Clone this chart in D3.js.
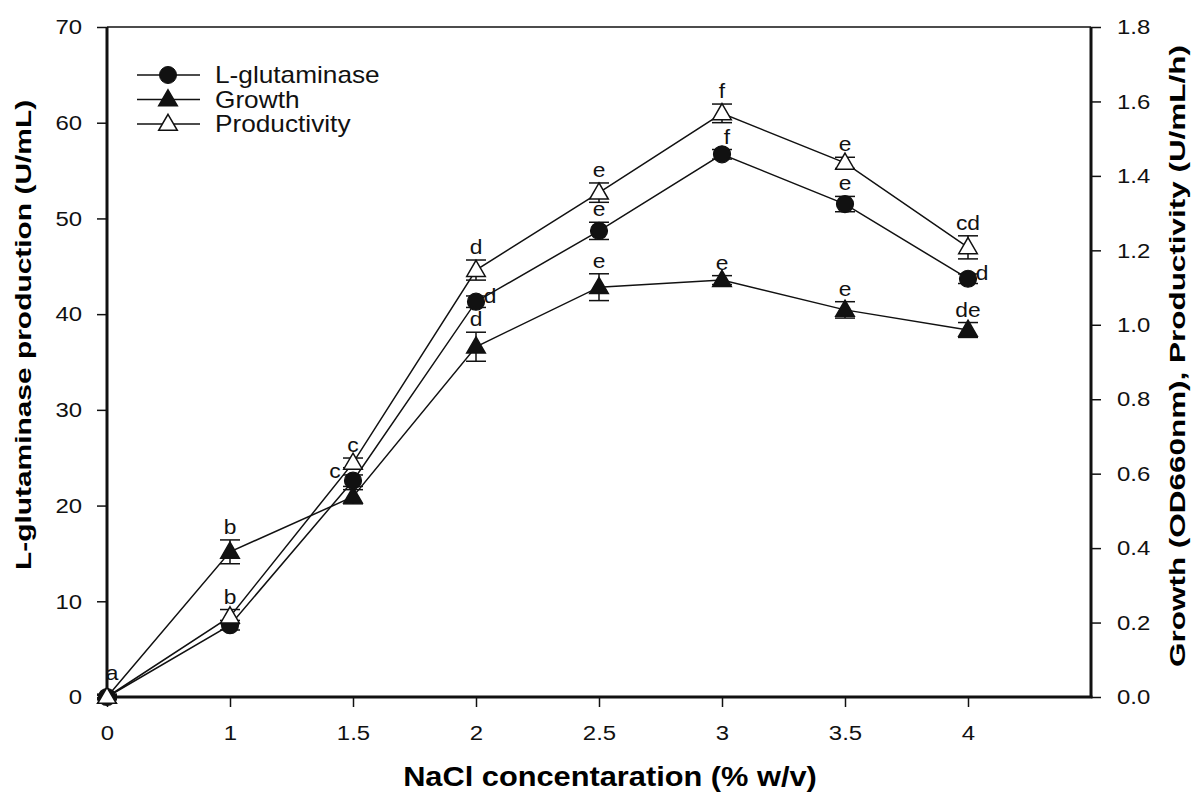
<!DOCTYPE html>
<html>
<head>
<meta charset="utf-8">
<script src="https://cdn.jsdelivr.net/npm/d3@7"></script>
<style>
  body { margin: 0; background: #fff; }
  svg { font-family: "Liberation Sans", Arial, sans-serif; }
</style>
</head>
<body>
<svg id="chart" width="1196" height="794"></svg>
<script>
// NaCl categories (equally spaced on the axis)
const nacl = ["0", "1", "1.5", "2", "2.5", "3", "3.5", "4"];

// L-glutaminase (U/mL), left axis
const glutaminase = [0, 7.5, 22.6, 41.3, 48.7, 56.7, 51.5, 43.7];
const glutaminaseErr = [0.3, 0.5, 0.6, 0.6, 0.9, 0.5, 0.8, 0.5];
const glutaminaseLetters = ["", "", "c", "d", "e", "f", "e", "d"];
const glutaminasePlace = ["", "", "left", "right", "above", "aboveRight", "above", "right"];

// Growth (OD660nm), right axis
const growth = [0, 0.39, 0.538, 0.941, 1.101, 1.12, 1.04, 0.986];
const growthErr = [0.005, 0.032, 0.019, 0.039, 0.036, 0.012, 0.022, 0.02];
const growthLetters = ["", "b", "", "d", "e", "e", "e", "de"];

// Productivity (U/mL/h), right axis
const productivity = [0, 0.216, 0.629, 1.147, 1.355, 1.568, 1.435, 1.208];
const productivityErr = [0.005, 0.019, 0.013, 0.027, 0.026, 0.025, 0.015, 0.031];
const productivityLetters = ["a", "b", "c", "d", "e", "f", "e", "cd"];
const productivityPlace = ["high", "above", "above", "above", "above", "above", "above", "above"];

const leftTicks = [0, 10, 20, 30, 40, 50, 60, 70];
const rightTicks = [0, 0.2, 0.4, 0.6, 0.8, 1.0, 1.2, 1.4, 1.6, 1.8];

const svg = d3.select("#chart");
const plotL = 107, plotR = 1091, plotT = 27, plotB = 697;
const wide = 1.14; // the figure's lettering is a little wider than Arial

const x = d3.scaleLinear().domain([0, nacl.length]).range([plotL, plotR]);
const yL = d3.scaleLinear().domain([0, 70]).range([plotB, plotT]);
const yR = d3.scaleLinear().domain([0, 1.8]).range([plotB, plotT]);

// move x/y of a text into a transform so it can be widened around its anchor
function widen(sel, sx) {
    sel.each(function() {
        const t = d3.select(this);
        const tx = +t.attr("x") || 0, ty = +t.attr("y") || 0;
        t.attr("x", 0).attr("y", 0).attr("transform", `translate(${tx},${ty}) scale(${sx},1)`);
    });
}

// axes
svg.append("g")
    .attr("transform", `translate(0,${plotB})`)
    .call(d3.axisBottom(x).tickValues(d3.range(nacl.length)).tickFormat(i => nacl[i]).tickSize(10).tickPadding(18))
    .call(g => g.select(".domain").remove());

svg.append("g")
    .attr("transform", `translate(${plotL},0)`)
    .call(d3.axisLeft(yL).tickValues(leftTicks).tickSize(10).tickPadding(15))
    .call(g => g.select(".domain").remove());

svg.append("g")
    .attr("transform", `translate(${plotR},0)`)
    .call(d3.axisRight(yR).tickValues(rightTicks).tickFormat(d3.format(".1f")).tickSize(10).tickPadding(16))
    .call(g => g.select(".domain").remove());

svg.selectAll(".tick text").attr("font-size", 21).attr("fill", "#111").call(widen, wide);
svg.selectAll(".tick line").attr("stroke", "#111").attr("stroke-width", 1.5);

// frame
svg.append("line").attr("x1", plotL).attr("x2", plotR).attr("y1", plotT).attr("y2", plotT)
    .attr("stroke", "#111").attr("stroke-width", 1.5);
svg.append("line").attr("x1", plotL).attr("x2", plotR + 1.5).attr("y1", plotB).attr("y2", plotB)
    .attr("stroke", "#111").attr("stroke-width", 3);
svg.append("line").attr("x1", plotL).attr("x2", plotL).attr("y1", plotT).attr("y2", plotB)
    .attr("stroke", "#111").attr("stroke-width", 3);
svg.append("line").attr("x1", plotR).attr("x2", plotR).attr("y1", plotT).attr("y2", plotB)
    .attr("stroke", "#111").attr("stroke-width", 3);

// axis titles
svg.append("text")
    .attr("transform", "translate(610,786) scale(1.14,1)")
    .attr("text-anchor", "middle").attr("font-size", 27).attr("font-weight", "bold")
    .text("NaCl concentaration (% w/v)");

svg.append("text")
    .attr("transform", "translate(31,335) rotate(-90) scale(1.36,1)")
    .attr("text-anchor", "middle").attr("font-size", 22).attr("font-weight", "bold")
    .text("L-glutaminase production (U/mL)");

svg.append("text")
    .attr("transform", "translate(1185,356) rotate(-90) scale(1.43,1)")
    .attr("text-anchor", "middle").attr("font-size", 22).attr("font-weight", "bold")
    .text("Growth (OD660nm), Productivity (U/mL/h)");

const tri = d3.symbol().type(d3.symbolTriangle).size(150);

function drawSeries(values, errs, y, marker, fill) {
    const g = svg.append("g");
    g.append("path")
        .datum(values)
        .attr("fill", "none").attr("stroke", "#111").attr("stroke-width", 1.5)
        .attr("d", d3.line().x((d, i) => x(i)).y(d => y(d)));

    const pts = g.selectAll(".pt").data(values).enter().append("g");
    pts.append("line")
        .attr("x1", (d, i) => x(i)).attr("x2", (d, i) => x(i))
        .attr("y1", (d, i) => y(d - errs[i])).attr("y2", (d, i) => y(d + errs[i]))
        .attr("stroke", "#111").attr("stroke-width", 1.5);
    [-1, 1].forEach(s => {
        pts.append("line")
            .attr("x1", (d, i) => x(i) - 10).attr("x2", (d, i) => x(i) + 10)
            .attr("y1", (d, i) => y(d + s * errs[i])).attr("y2", (d, i) => y(d + s * errs[i]))
            .attr("stroke", "#111").attr("stroke-width", 1.5);
    });
    if (marker === "circle") {
        pts.append("circle")
            .attr("cx", (d, i) => x(i)).attr("cy", d => y(d)).attr("r", 8.5)
            .attr("fill", fill).attr("stroke", "#111").attr("stroke-width", 1.2);
    } else {
        pts.append("path")
            .attr("d", tri)
            .attr("transform", (d, i) => `translate(${x(i)},${y(d) + 1})`)
            .attr("fill", fill).attr("stroke", "#111").attr("stroke-width", 1.5);
    }
}

function drawLetters(values, errs, y, letters, place) {
    const pos = (d, i) => {
        const p = place ? place[i] : "above";
        if (p === "right") return [x(i) + 14, y(d) + 1];
        if (p === "left") return [x(i) - 18, y(d) - 3];
        if (p === "high") return [x(i) + 5, y(d) - 17];
        if (p === "aboveRight") return [x(i) + 5, y(d + errs[i]) - 6];
        return [x(i), y(d + errs[i]) - 6];
    };
    svg.append("g").selectAll("text").data(values).enter().append("text")
        .attr("font-size", 20).attr("fill", "#111").attr("text-anchor", "middle")
        .attr("transform", (d, i) => `translate(${pos(d, i)}) scale(${wide},1)`)
        .text((d, i) => letters[i]);
}

drawSeries(growth, growthErr, yR, "triangle", "#111");
drawSeries(glutaminase, glutaminaseErr, yL, "circle", "#111");
drawSeries(productivity, productivityErr, yR, "triangle", "#fff");

drawLetters(growth, growthErr, yR, growthLetters);
drawLetters(glutaminase, glutaminaseErr, yL, glutaminaseLetters, glutaminasePlace);
drawLetters(productivity, productivityErr, yR, productivityLetters, productivityPlace);

// legend
const legendItems = [
    { name: "L-glutaminase", marker: "circle", fill: "#111" },
    { name: "Growth", marker: "triangle", fill: "#111" },
    { name: "Productivity", marker: "triangle", fill: "#fff" }
];
const legend = svg.append("g").selectAll("g").data(legendItems).enter().append("g")
    .attr("transform", (d, i) => `translate(0,${75 + i * 24.5})`);
legend.append("line").attr("x1", 137).attr("x2", 200).attr("stroke", "#111").attr("stroke-width", 1.5);
legend.each(function(d) {
    const g = d3.select(this);
    if (d.marker === "circle") {
        g.append("circle").attr("cx", 168).attr("r", 8.5).attr("fill", d.fill).attr("stroke", "#111");
    } else {
        g.append("path").attr("d", tri).attr("transform", "translate(168,1)")
            .attr("fill", d.fill).attr("stroke", "#111").attr("stroke-width", 1.5);
    }
});
legend.append("text").attr("transform", `translate(215,8) scale(${wide},1)`)
    .attr("font-size", 23).attr("fill", "#111")
    .text(d => d.name);
</script>
</body>
</html>
